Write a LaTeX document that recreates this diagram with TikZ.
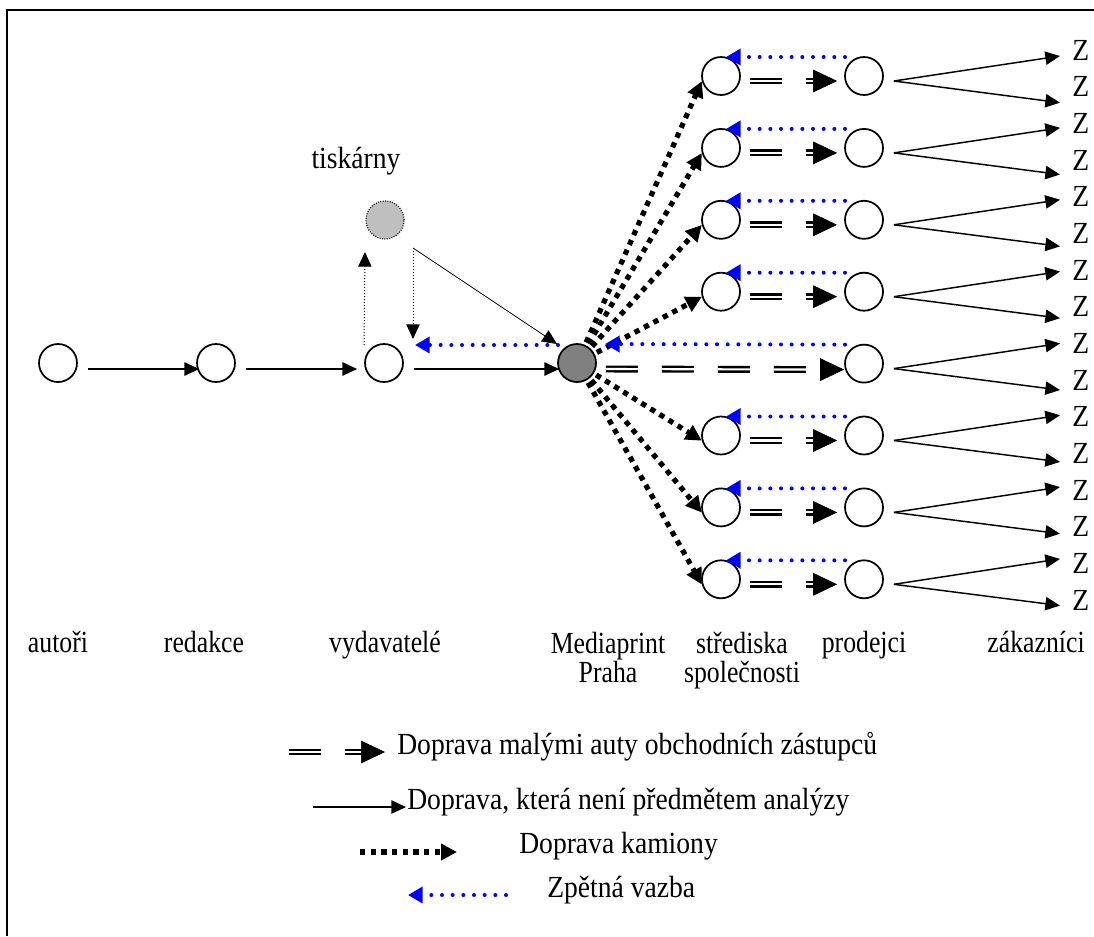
\documentclass[tikz,border=0pt]{standalone}
\usepackage{fontspec}
\setmainfont[FakeStretch=0.9]{Liberation Serif}
\newfontfamily\colfont[FakeStretch=0.84]{Liberation Serif}
\usetikzlibrary{arrows.meta,calc}
\begin{document}
\begin{tikzpicture}[x=0.75pt,y=-0.75pt,
  txt/.style={font=\fontsize{23}{22}\selectfont, inner sep=0pt},
  col/.style={font=\colfont\fontsize{23}{21.5}\selectfont, inner sep=0pt},
  stn/.style={circle, draw, line width=1.3pt, minimum size=28.5pt, inner sep=0pt, fill=white},
  hub/.style={stn, fill=gray},
  prn/.style={circle, draw, dash pattern=on 0.7pt off 1.1pt, line width=0.9pt, minimum size=28.5pt, inner sep=0pt, fill=lightgray},
  solidarr/.style={line width=1.1pt, -{Triangle[length=11pt,width=10pt]}},
  fineline/.style={line width=0.6pt, -{Triangle[length=11pt,width=10pt]}},
  dotline/.style={line width=0.75pt, dash pattern=on 0.75pt off 1.5pt, -{Triangle[length=11pt,width=10pt]}},
  truck/.style={line width=3.9pt, dash pattern=on 4pt off 4pt, -{Triangle[length=12pt,width=12pt]}},
  fbk/.style={blue, line width=3pt, line cap=round, dash pattern=on 0pt off 8pt, -{Triangle[length=11pt,width=12pt]}},
  car/.style={line width=1.8pt, double=white, double distance=1.6pt, dash pattern=on 24pt off 18pt},
  carhead/.style={line width=0.5pt, -{Triangle[length=18pt,width=17pt]}},
]
\useasboundingbox (0,0) rectangle (1094,936);
\fill[white] (0,0) rectangle (1094,936);
% frame
\draw[line width=1.5pt] (7,936) -- (7,10) -- (1094,10);

% main chain
\node[stn] (a) at (58,363) {};
\node[stn] (r) at (216,363) {};
\node[stn] (v) at (384,363) {};
\node[hub] (mp) at (577,363) {};
\node[prn] (t) at (385,220) {};
\node[txt, anchor=base] (tl) at (356,168) {tiskárny};

% distribution centres and sellers
\foreach \i in {1,...,8}{
  \pgfmathsetmacro\yy{76+71.9*(\i-1)}
  \node[stn] (p\i) at (864,\yy) {};
}
\foreach \i in {1,2,3,4,6,7,8}{
  \pgfmathsetmacro\yy{76+71.9*(\i-1)}
  \node[stn] (s\i) at (721,\yy) {};
}
% customers
\foreach \k in {1,...,16}{
  \pgfmathsetmacro\zy{50+36.67*(\k-1)}
  \node[txt, anchor=west] (z\k) at (1072,\zy) {Z};
}

% connectors of the main chain
\draw[solidarr] ($(a.east)+(10,6)$) -- ($(r.west)+(3,6)$);
\draw[solidarr] ($(r.east)+(10,6)$) -- ($(v.west)+(-7,6)$);
\draw[solidarr] ($(v.east)+(10,6)$) -- ($(mp.west)+(2,6)$);

% printing house
\coordinate (tout) at ($(t)+(28,28)$);
\draw[dotline] ($(v)+(-20,-18)$) -- ($(t)+(-20,32)$);
\draw[dotline] (tout) -- ($(v)+(29,-24)$);
\draw[fineline] (tout) -- ($(mp)+(-20,-19)$);

% trucks
\foreach \i in {1,2,3,4,6,7,8}{
  \draw[truck, shorten <=2pt] (mp) -- (s\i.195);
}

% small cars and feedback
\foreach \i in {1,2,3,4,6,7,8}{
  \draw[car] ($(s\i.east)+(9,5)$) -- ($(p\i.west)+(-17,5)$);
  \draw[carhead] ($(p\i.west)+(-31,5)$) -- ($(p\i.west)+(-7,5)$);
  \draw[fbk] ($(p\i)+(-19,-19)$) -- ($(s\i)+(5,-19)$);
}
\draw[car] ($(mp.east)+(9,6)$) -- ($(p5.west)+(-10,6)$);
\draw[carhead] ($(p5.west)+(-24,6)$) -- ($(p5.west)+(0,6)$);
\draw[fbk] ($(p5)+(-19,-19)$) -- ($(mp)+(28,-19)$);
\draw[fbk] ($(mp)+(-19,-18)$) -- ($(v)+(31,-18)$);

% sellers to customers
\foreach \i in {1,...,8}{
  \pgfmathtruncatemacro\up{2*\i-1}
  \pgfmathtruncatemacro\dn{2*\i}
  \pgfmathsetmacro\du{6-1.5*(\i-1)}
  \pgfmathsetmacro\dd{16-1.5*(\i-1)}
  \draw[solidarr] ($(p\i.east)+(10,5)$) -- ($(z\up.west)+(-12,\du)$);
  \draw[solidarr] ($(p\i.east)+(10,5)$) -- ($(z\dn.west)+(-12,\dd)$);
}

% column labels
\node[col, anchor=base] (la) at (58,652) {autoři};
\node[col, anchor=base] (lr) at (204,652) {redakce};
\node[col, anchor=base] (lv) at (385,652) {vydavatelé};
\node[col, anchor=north, align=center] (lm) at (608,632) {Mediaprint\\Praha};
\node[col, anchor=north, align=center] (ls) at (742,632) {střediska\\společnosti};
\node[col, anchor=base] (lp) at (864,652) {prodejci};
\node[col, anchor=base] (lz) at (1036,652) {zákazníci};

% legend
\coordinate (k1a) at (289,752); \coordinate (k1b) at (385,752);
\draw[car] (k1a) -- ($(k1b)+(-10,0)$);
\draw[carhead] ($(k1b)+(-24,0)$) -- (k1b);
\node[txt, anchor=base west] (t1) at (397,754) {Doprava malými auty obchodních zástupců};

\coordinate (k2a) at (313,807); \coordinate (k2b) at (406,807);
\draw[solidarr] (k2a) -- (k2b);
\node[txt, anchor=base west] (t2) at (407,809) {Doprava, která není předmětem analýzy};

\coordinate (k3a) at (360,852); \coordinate (k3b) at (457,852);
\draw[truck] (k3a) -- (k3b);
\node[txt, anchor=base west] (t3) at (519,853) {Doprava kamiony};

\coordinate (k4a) at (506,895); \coordinate (k4b) at (408,895);
\draw[fbk] (k4a) -- (k4b);
\node[txt, anchor=base west] (t4) at (547,897) {Zpětná vazba};
\end{tikzpicture}
\end{document}
